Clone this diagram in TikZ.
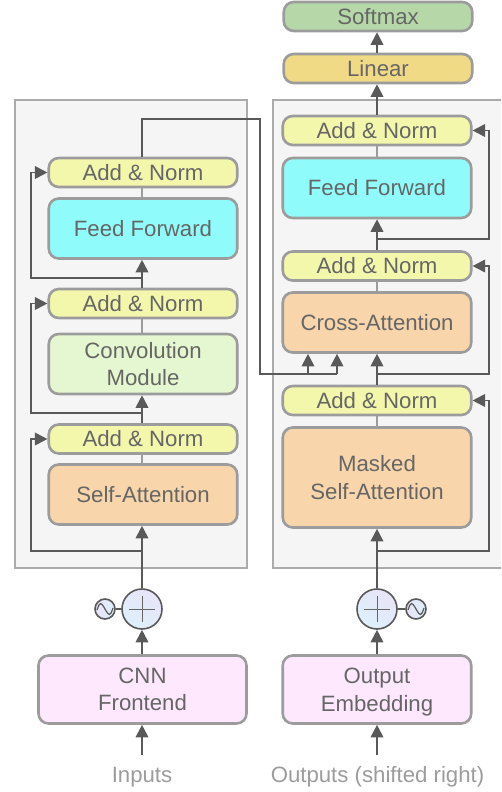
\documentclass[tikz,border=0pt]{standalone}
\usepackage{fontspec}
\setmainfont{Liberation Sans}
\usetikzlibrary{arrows.meta}
\definecolor{edgegray}{HTML}{9C9C9C}
\definecolor{linegray}{HTML}{595959}
\definecolor{textgray}{HTML}{666666}
\tikzset{
  block/.style={draw=edgegray, line width=2.6pt, rounded corners=10pt, minimum width=188.5pt, text=textgray,
    align=center, inner sep=0pt, font=\fontsize{22.2}{27.5}\selectfont},
  addnorm/.style={block, fill=addfill, minimum height=29pt},
  feed/.style={block, fill=feedfill, minimum height=60pt},
  attn/.style={block, fill=attnfill, minimum height=60pt},
  conn/.style={draw=linegray, line width=1.9pt, -{Triangle[length=12.5pt,width=12.5pt]}},
  plainconn/.style={draw=linegray, line width=1.9pt},
  thinconn/.style={draw=edgegray, line width=1.9pt},
  panel/.style={draw=edgegray!85, fill=black!4, line width=1.6pt},
  addcirc/.style={circle, draw=linegray, line width=1.6pt, minimum size=40pt, inner sep=0pt,
    bottom color=addblue, top color=addlav, shading angle=-35},
  sinecirc/.style={circle, draw=linegray, line width=1.6pt, minimum size=20pt, inner sep=0pt,
    left color=addlav, right color=addblue},
  lowertext/.style={text=edgegray, inner sep=0pt, font=\fontsize{22.2}{27}\selectfont}
}
\definecolor{addfill}{HTML}{F3F7AC}
\definecolor{feedfill}{HTML}{8FFCFB}
\definecolor{attnfill}{HTML}{F8D5AA}
\definecolor{convfill}{HTML}{E5F7D0}
\definecolor{embfill}{HTML}{FDE8FD}
\definecolor{softfill}{HTML}{B6D7A8}
\definecolor{linfill}{HTML}{F1DA85}
\definecolor{addblue}{HTML}{DDF0FB}
\definecolor{addlav}{HTML}{E8E4F8}
\begin{document}
\begin{tikzpicture}[x=1pt,y=-1pt]
      \useasboundingbox (0,0) rectangle (501,792);
      \clip (0,0) rectangle (501,792);
      \draw[panel] (15,100) rectangle (247,568);
      \draw[panel] (273,100) rectangle (510,568);

      \node[addnorm] (EN3) at (143,172.5) {Add \& Norm};
      \node[feed] (EFF) at (143,228.5) {Feed Forward};
      \node[addnorm] (EN2) at (143,303.5) {Add \& Norm};
      \node[block, fill=convfill, minimum height=60pt] (CONV) at (143,364) {Convolution\\Module};
      \node[addnorm] (EN1) at (143,439) {Add \& Norm};
      \node[attn] (SA) at (143,494.5) {Self-Attention};
      \node[block, fill=embfill, minimum width=208pt, minimum height=68pt] (CNN) at (142.5,689.5) {CNN\\Frontend};
      \node[addcirc] (ADDE) at (142,609) {};
      \node[sinecirc] (SINE) at (105,609) {};
      \node[lowertext] (IN) at (142,777) {Inputs};

      \node[block, fill=softfill, minimum height=29pt] (SOFT) at (378,16.5) {Softmax};
      \node[block, fill=linfill, minimum height=29pt] (LIN) at (378,68.5) {Linear};
      \node[addnorm] (DN3) at (377,130.5) {Add \& Norm};
      \node[feed] (DFF) at (377,188) {Feed Forward};
      \node[addnorm] (DN2) at (377,266) {Add \& Norm};
      \node[attn] (CA) at (377,322.5) {Cross-Attention};
      \node[addnorm] (DN1) at (377,400.5) {Add \& Norm};
      \node[attn, minimum height=100pt] (MSA) at (377,477.5) {Masked\\Self-Attention};
      \node[block, fill=embfill, minimum height=68pt, text depth=0pt] (OUT) at (377,689.5) {Output\\Embedding};
      \node[addcirc] (ADDD) at (377,609) {};
      \node[sinecirc] (SIND) at (416,609) {};
      \node[lowertext] (OT) at (377.5,776.5) {Outputs (shifted right)};

      \draw[textgray, line width=1pt] (ADDE.center) ++(-13,0) -- ++(26,0) (ADDE.center) ++(0,-13) -- ++(0,26);
      \draw[textgray, line width=1pt] (ADDD.center) ++(-13,0) -- ++(26,0) (ADDD.center) ++(0,-13) -- ++(0,26);
      \draw[linegray, line width=1.2pt] (SINE.center) ++(-8,1) .. controls ++(3,-9) and ++(-4,-7) .. ++(8,-1) .. controls ++(4,7) and ++(-3,9) .. ++(8,-1);
      \draw[linegray, line width=1.2pt] (SIND.center) ++(-8,1) .. controls ++(3,-9) and ++(-4,-7) .. ++(8,-1) .. controls ++(4,7) and ++(-3,9) .. ++(8,-1);

      \coordinate (IN1) at (142,755);
      \coordinate (OT1) at (377,755);
      \coordinate (J1) at (142,551);
      \coordinate (J2) at (142,413);
      \coordinate (J3) at (142,278);
      \coordinate (J4) at (377,551);
      \coordinate (J5) at (377,374);
      \coordinate (J6) at (377,239);
      \coordinate (M1) at (308,374);
      \coordinate (M2) at (337,374);

      \draw[conn] (IN1) -- (CNN.south -| IN1);
      \draw[conn] (CNN.north -| ADDE) -- (ADDE.south);
      \draw[conn] (ADDE.north) -- (ADDE.north |- SA.south);
      \draw[plainconn] (SINE) -- (ADDE);
      \draw[conn] (J1) -- ++(-111,0) |- (EN1.west);
      \draw[thinconn] (EN1.south -| J1) -- (SA.north -| J1);
      \draw[conn] (EN1.north -| J2) -- (CONV.south -| J2);
      \draw[conn] (J2) -- ++(-111,0) |- (EN2.west);
      \draw[thinconn] (EN2.south -| J2) -- (CONV.north -| J2);
      \draw[conn] (EN2.north -| J3) -- (EFF.south -| J3);
      \draw[conn] (J3) -- ++(-111,0) |- (EN3.west);
      \draw[thinconn] (EN3.south -| J3) -- (EFF.north -| J3);
      \draw[plainconn] (EN3.north -| J3) -- ++(0,-38) -| (260,374) -- (M2);
      \draw[conn] (M1) -- (M1 |- CA.south);
      \draw[conn] (M2) -- (M2 |- CA.south);

      \draw[conn] (OT1) -- (OUT.south);
      \draw[conn] (OUT.north) -- (ADDD.south);
      \draw[conn] (ADDD.north) -- (MSA.south);
      \draw[plainconn] (SIND) -- (ADDD);
      \draw[conn] (J4) -- ++(112,0) |- (DN1.east);
      \draw[thinconn] (DN1.south) -- (MSA.north);
      \draw[conn] (DN1.north) -- (CA.south);
      \draw[conn] (J5) -- ++(112,0) |- (DN2.east);
      \draw[thinconn] (DN2.south) -- (CA.north);
      \draw[conn] (DN2.north) -- (DFF.south);
      \draw[conn] (J6) -- ++(112,0) |- (DN3.east);
      \draw[thinconn] (DN3.south) -- (DFF.north);
      \draw[conn] (DN3.north) -- (LIN.south -| DN3);
      \draw[conn] (LIN.north -| DN3) -- (SOFT.south -| DN3);
    \end{tikzpicture}
\end{document}
